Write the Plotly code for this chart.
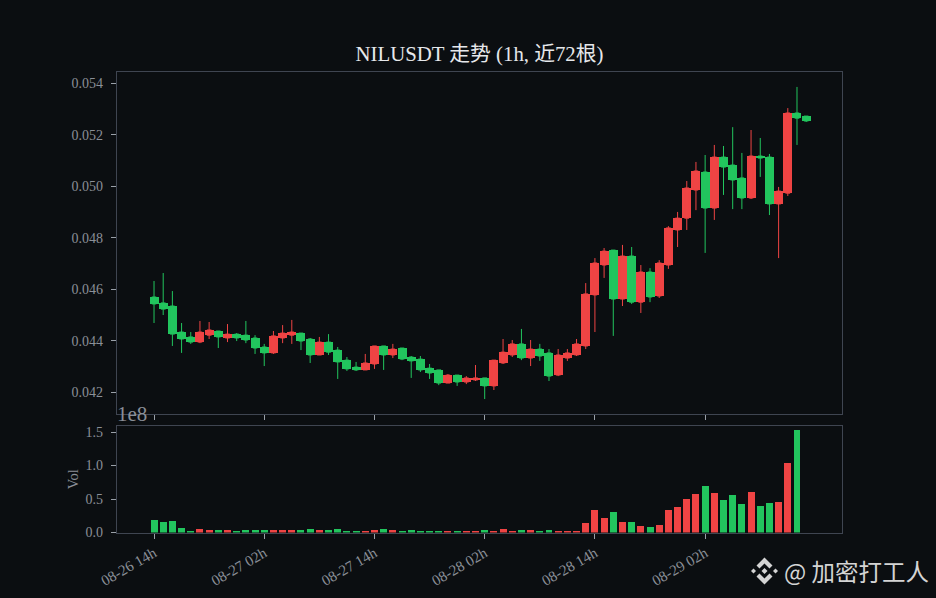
import plotly.graph_objects as go
from plotly.subplots import make_subplots
import pandas as pd

title = "NILUSDT 走势 (1h, 近72根)"
hours = [t.strftime("%m-%d %Hh") for t in pd.date_range("2025-08-26 14:00", periods=72, freq="h")]
tick_labels = hours[::12]

# prices in thousandths of USDT
open_milli = [45.70,45.47,45.35,44.34,44.15,43.95,44.22,44.38,44.11,44.26,44.22,44.11,43.76,43.53,44.11,44.22,44.30,44.07,43.45,43.95,43.64,43.25,42.98,
              42.87,43.10,43.80,43.45,43.72,43.37,43.29,42.94,42.87,42.36,42.67,42.40,42.48,42.56,42.25,43.14,43.45,43.88,43.33,43.68,43.53,42.67,43.33,43.45,
              43.80,45.78,46.94,47.52,45.62,47.29,45.50,46.67,45.74,46.94,48.30,48.76,49.85,50.55,49.15,51.13,50.82,50.32,49.54,51.17,51.13,49.31,49.73,52.84,52.72]
close_milli = [45.43,45.23,44.26,44.07,43.95,44.34,44.42,44.15,44.26,44.11,44.03,43.72,43.53,44.19,44.30,44.34,43.99,43.45,43.95,43.56,43.18,42.91,42.87,
               43.14,43.80,43.45,43.68,43.29,43.22,42.87,42.75,42.36,42.67,42.40,42.56,42.56,42.25,43.25,43.56,43.88,43.33,43.68,43.41,42.63,43.45,43.53,43.88,
               45.82,47.02,47.48,45.62,47.29,45.50,46.67,45.70,47.02,48.38,48.76,49.93,50.59,49.15,51.13,50.74,50.24,49.54,51.17,51.09,49.31,49.81,52.84,52.64,52.53]
high_milli = [46.32,46.63,45.93,44.69,44.34,44.77,44.73,44.38,44.65,44.30,44.77,44.22,43.88,44.38,44.61,44.81,44.30,44.11,44.15,44.26,43.76,43.37,43.18,
              43.49,43.80,43.80,43.88,43.72,43.41,43.41,43.10,42.87,42.71,42.67,42.63,43.06,42.56,43.25,44.07,44.03,44.46,44.03,43.88,43.68,43.68,43.68,44.07,
              46.24,47.21,47.60,47.52,47.72,47.64,46.94,46.82,47.13,48.45,49.00,50.20,50.94,51.21,51.60,51.56,52.29,51.29,52.18,51.87,51.25,49.97,53.03,53.85,52.72]
low_milli = [44.69,45.00,43.80,43.53,43.88,43.91,44.07,43.72,43.95,43.99,43.91,43.49,43.02,43.49,43.91,43.88,43.64,43.14,43.45,43.45,42.52,42.83,42.83,
             42.87,42.91,42.87,43.33,43.25,42.56,42.79,42.52,42.28,42.36,42.25,42.32,42.44,41.74,42.09,43.10,43.37,43.25,43.02,43.22,42.44,42.63,43.22,43.41,
             43.68,44.34,46.44,44.19,45.35,45.43,45.08,45.50,45.66,46.79,47.64,48.30,49.07,47.41,48.69,49.66,49.11,49.11,49.50,50.36,48.88,47.21,49.62,51.60,52.49]
volume_e8 = [0.18,0.15,0.165,0.06,0.015,0.045,0.03,0.03,0.03,0.015,0.03,0.03,0.03,0.03,0.03,0.03,0.03,0.045,0.03,0.03,0.045,0.015,0.015,0.015,0.03,0.045,0.03,0.015,0.03,0.015,0.015,0.015,0.015,0.015,0.015,0.01,0.04,0.025,0.055,0.01,0.04,0.04,0.01,0.04,0.025,0.01,0.025,0.145,0.34,0.22,0.31,0.16,0.16,0.10,0.085,0.115,0.34,0.385,0.505,0.58,0.70,0.595,0.49,0.565,0.43,0.61,0.40,0.445,0.46,1.045,1.525,0.0]

open_ = [v / 1000 for v in open_milli]
close = [v / 1000 for v in close_milli]
high = [v / 1000 for v in high_milli]
low = [v / 1000 for v in low_milli]

UP = "#ef4444"
DOWN = "#22c55e"
BG = "#0b0e11"
SPINE = "#3f4551"
TXT = "#8a8f97"
SERIF = "Liberation Serif, Noto Sans CJK SC, serif"
W, H = 936, 598

colors = [UP if c >= o else DOWN for o, c in zip(open_, close)]
fig = make_subplots(rows=2, cols=1, shared_xaxes=False, vertical_spacing=0.03)
# wicks from the candlestick, wider bodies from a floating bar over it
fig.add_trace(go.Candlestick(
    x=hours, open=open_, high=high, low=low, close=close,
    increasing=dict(line=dict(color=UP, width=1), fillcolor=UP),
    decreasing=dict(line=dict(color=DOWN, width=1), fillcolor=DOWN),
    whiskerwidth=0, showlegend=False), row=1, col=1)
fig.add_trace(go.Bar(x=hours, y=[abs(c - o) for o, c in zip(open_, close)], base=[min(o, c) for o, c in zip(open_, close)],
                     marker=dict(color=colors, line=dict(width=0)), width=0.98, showlegend=False, hoverinfo="skip"), row=1, col=1)
fig.add_trace(go.Bar(x=hours, y=volume_e8, marker=dict(color=colors, line=dict(width=0)), width=0.76, showlegend=False), row=2, col=1)

axis = dict(showgrid=False, zeroline=False, showline=True, linecolor=SPINE, linewidth=1.4, mirror=True,
            ticks="outside", tickcolor="#9aa0a8", ticklen=5, tickwidth=1,
            tickfont=dict(family=SERIF, size=14, color=TXT))
fig.update_xaxes(**axis, type="category", categoryorder="array", categoryarray=hours, tickmode="array",
                 tickvals=tick_labels, range=[-4.03, 74.9], rangeslider_visible=False)
fig.update_xaxes(showticklabels=False, row=1, col=1)
fig.update_xaxes(tickangle=-30, ticktext=tick_labels, tickfont=dict(size=15), row=2, col=1)
fig.update_yaxes(**axis, ticklabelstandoff=5)
fig.update_yaxes(row=1, col=1, range=[0.04116, 0.05443], tickmode="array",
                 tickvals=[0.042,0.044,0.046,0.048,0.050,0.052,0.054],
                 ticktext=["0.042","0.044","0.046","0.048","0.050","0.052","0.054"])
fig.update_yaxes(row=2, col=1, range=[0, 1.59], tickmode="array", tickvals=[0,0.5,1.0,1.5],
                 ticktext=["0.0","0.5","1.0","1.5"],
                 title=dict(text="Vol", font=dict(family=SERIF, size=14.5, color=TXT), standoff=3))

def pt(x, y):
    return f"{x/W:.5f},{1-y/H:.5f}"

def poly(points):
    return "M" + "L".join(pt(x, y) for x, y in points) + "Z"

cx, cy = 764.5, 571.0
logo_paths = [
    poly([(cx-13.5, cy), (cx-11, cy-2.5), (cx-8.5, cy), (cx-11, cy+2.5)]),
    poly([(cx+13.5, cy), (cx+11, cy-2.5), (cx+8.5, cy), (cx+11, cy+2.5)]),
    poly([(cx, cy-3), (cx+3, cy), (cx, cy+3), (cx-3, cy)]),
    poly([(cx, cy-13.5), (cx+8, cy-5.5), (cx+5, cy-2.5), (cx, cy-7.5), (cx-5, cy-2.5), (cx-8, cy-5.5)]),
    poly([(cx, cy+13.5), (cx+8, cy+5.5), (cx+5, cy+2.5), (cx, cy+7.5), (cx-5, cy+2.5), (cx-8, cy+5.5)]),
]

fig.update_layout(
    width=W, height=H, paper_bgcolor=BG, plot_bgcolor=BG, showlegend=False, bargap=0,
    margin=dict(l=0, r=0, t=0, b=0, autoexpand=False),
    title=dict(text=title, x=479.5/W, xanchor="center", y=1-54/H, yanchor="middle",
               font=dict(family=SERIF, size=20.8, color="#e6e8eb")),
    xaxis=dict(domain=[117/W, 842/W]), xaxis2=dict(domain=[117/W, 842/W]),
    yaxis=dict(domain=[1-414/H, 1-72/H]), yaxis2=dict(domain=[1-532.5/H, 1-426/H]),
    shapes=[dict(type="path", path=p, xref="paper", yref="paper", fillcolor="#d4d4d4", line=dict(width=0)) for p in logo_paths],
    annotations=[
        dict(text="1e8", x=115/W, y=1-414/H, xref="paper", yref="paper", xanchor="left", yanchor="middle",
             showarrow=False, font=dict(family=SERIF, size=21, color=TXT)),
        dict(text="@ 加密打工人", x=782/W, y=1-570.5/H, xref="paper", yref="paper", xanchor="left", yanchor="middle",
             showarrow=False, font=dict(family="Noto Sans CJK SC", size=23.5, color="#d4d4d4")),
    ],
)
fig.write_html("out.html", config=dict(displayModeBar=False),
               post_script=f"document.body.style.margin='0';document.body.style.background='{BG}';document.documentElement.style.background='{BG}';")
